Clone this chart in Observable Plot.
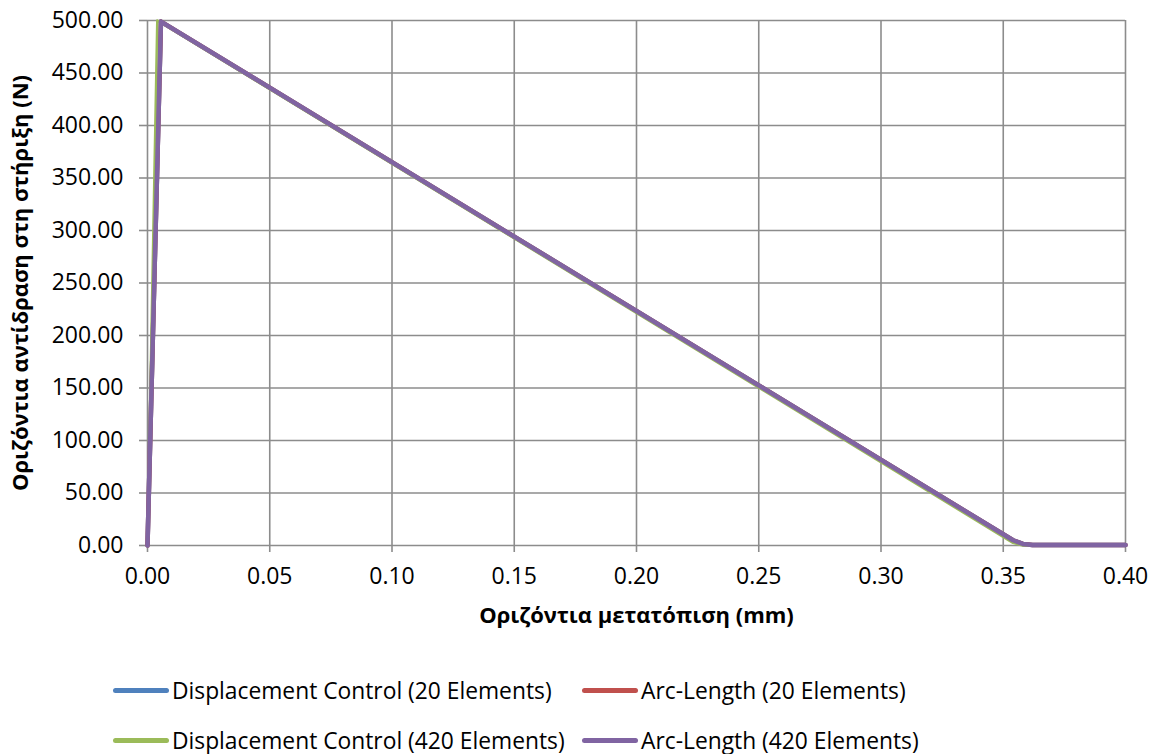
<!DOCTYPE html>
<html>
<head>
<meta charset="utf-8">
<script src="https://cdn.jsdelivr.net/npm/d3@7"></script>
<script src="https://cdn.jsdelivr.net/npm/@observablehq/plot@0.6"></script>
<style>
  body { margin: 0; background: #fff; font-family: "Open Sans", sans-serif; }
  #legend { position: absolute; left: 0; top: 0; width: 1155px; }
  .row { position: absolute; display: flex; align-items: center; font-size: 22.8px; color: #000; white-space: nowrap; }
  .sw { width: 56px; height: 5px; border-radius: 3px; margin-right: 3px; }
</style>
</head>
<body>
<div id="chart"></div>
<div id="legend"></div>
<script>
// Series names and colors
const seriesNames = [
  "Displacement Control (20 Elements)",
  "Arc-Length (20 Elements)",
  "Displacement Control (420 Elements)",
  "Arc-Length (420 Elements)"
];
const seriesColors = ["#4f81bd", "#c0504d", "#9bbb59", "#8064a2"];

// Displacement (mm) and reaction (N) values per series
const dc20X = [0, 0.0055, 0.354, 0.358, 0.362, 0.40];
const dc20Y = [0, 499, 5, 1.5, 0.5, 0.5];
const al20X = [0, 0.0055, 0.354, 0.358, 0.362, 0.40];
const al20Y = [0, 499, 5, 1.5, 0.5, 0.5];
const dc420X = [0, 0.004, 0.354, 0.358, 0.40];
const dc420Y = [0, 500, 2.5, 0, 0];
const al420X = [0, 0.0055, 0.354, 0.358, 0.362, 0.40];
const al420Y = [0, 499, 5, 1.5, 0.5, 0.5];

const xTicks = [0, 0.05, 0.10, 0.15, 0.20, 0.25, 0.30, 0.35, 0.40];
const yTicks = [0, 50, 100, 150, 200, 250, 300, 350, 400, 450, 500];

const xTitle = "Οριζόντια μετατόπιση (mm)";
const yTitle = "Οριζόντια αντίδραση στη στήριξη (N)";

const toRows = (xs, ys, s) => xs.map((x, i) => ({x, y: ys[i], s}));
const rows = {
  dc20: toRows(dc20X, dc20Y, seriesNames[0]),
  al20: toRows(al20X, al20Y, seriesNames[1]),
  dc420: toRows(dc420X, dc420Y, seriesNames[2]),
  al420: toRows(al420X, al420Y, seriesNames[3])
};

const gridColor = "#8c8c8c";
const fmt = d3.format(".2f");

const chart = Plot.plot({
  width: 1155,
  height: 650,
  marginTop: 20,
  marginBottom: 105,
  marginLeft: 147,
  marginRight: 30,
  style: {fontFamily: "Open Sans, sans-serif", fontSize: "23px", color: "#000", background: "#fff"},
  x: {domain: [0, 0.40]},
  y: {domain: [0, 500]},
  marks: [
    Plot.gridX(xTicks, {stroke: gridColor, strokeOpacity: 1, strokeWidth: 1.6}),
    Plot.gridY(yTicks, {stroke: gridColor, strokeOpacity: 1, strokeWidth: 1.6}),
    Plot.axisX(xTicks, {tickFormat: fmt, tickSize: 7, tickPadding: 15, stroke: gridColor, strokeWidth: 1.6, fill: "#000", fontSize: 23, label: null}),
    Plot.axisY(yTicks, {tickFormat: fmt, tickSize: 8, tickPadding: 16, stroke: gridColor, strokeWidth: 1.6, fill: "#000", fontSize: 23, label: null}),
    Plot.line(rows.dc20, {x: "x", y: "y", stroke: seriesColors[0], strokeWidth: 4.5}),
    Plot.line(rows.al20, {x: "x", y: "y", stroke: seriesColors[1], strokeWidth: 4.5}),
    Plot.line(rows.dc420, {x: "x", y: "y", stroke: seriesColors[2], strokeWidth: 2.5}),
    Plot.line(rows.al420, {x: "x", y: "y", stroke: seriesColors[3], strokeWidth: 4.5}),
    Plot.text([xTitle], {frameAnchor: "bottom", dy: 77, text: d => d, fontWeight: "bold", fontSize: 22, fill: "#000"}),
    Plot.text([yTitle], {frameAnchor: "left", dx: -127, rotate: -90, textAnchor: "middle", text: d => d, fontWeight: "bold", fontSize: 22, fill: "#000"})
  ]
});
document.getElementById("chart").appendChild(chart);

// Legend (HTML, below the plot)
const legend = document.getElementById("legend");
const positions = [
  {left: 113, top: 690}, {left: 582, top: 690},
  {left: 113, top: 740}, {left: 582, top: 740}
];
seriesNames.forEach((name, i) => {
  const row = document.createElement("div");
  row.className = "row";
  row.style.left = positions[i].left + "px";
  row.style.top = (positions[i].top - 16) + "px";
  row.style.height = "32px";
  const sw = document.createElement("div");
  sw.className = "sw";
  sw.style.background = seriesColors[i];
  const t = document.createElement("span");
  t.textContent = name;
  row.appendChild(sw);
  row.appendChild(t);
  legend.appendChild(row);
});
</script>
</body>
</html>
